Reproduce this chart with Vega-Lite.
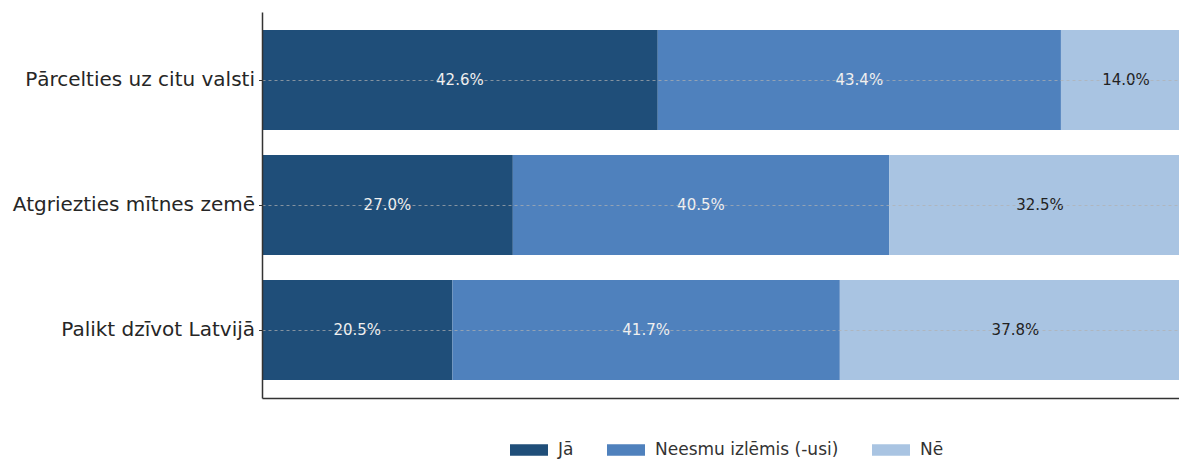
{
  "$schema": "https://vega.github.io/schema/vega-lite/v6.json",
  "width": 929,
  "height": 386,
  "autosize": {"type": "none"},
  "padding": {"left": 262, "top": 12, "right": 0, "bottom": 61},
  "background": "white",
  "config": {
    "view": {"stroke": null},
    "font": "DejaVu Sans"
  },
  "data": {
    "values": [
      {"cat": "Pārcelties uz citu valsti", "ans": "Jā", "o": 1, "v": 42.6},
      {"cat": "Pārcelties uz citu valsti", "ans": "Neesmu izlēmis (-usi)", "o": 2, "v": 43.4},
      {"cat": "Pārcelties uz citu valsti", "ans": "Nē", "o": 3, "v": 14.0},
      {"cat": "Atgriezties mītnes zemē", "ans": "Jā", "o": 1, "v": 27.0},
      {"cat": "Atgriezties mītnes zemē", "ans": "Neesmu izlēmis (-usi)", "o": 2, "v": 40.5},
      {"cat": "Atgriezties mītnes zemē", "ans": "Nē", "o": 3, "v": 32.5},
      {"cat": "Palikt dzīvot Latvijā", "ans": "Jā", "o": 1, "v": 20.5},
      {"cat": "Palikt dzīvot Latvijā", "ans": "Neesmu izlēmis (-usi)", "o": 2, "v": 41.7},
      {"cat": "Palikt dzīvot Latvijā", "ans": "Nē", "o": 3, "v": 37.8}
    ]
  },
  "transform": [
    {"stack": "v", "groupby": ["cat"], "sort": [{"field": "o"}], "as": ["x0", "x1"]},
    {"calculate": "(datum.x0 + datum.x1) / 2", "as": "xm"},
    {"calculate": "format(datum.v, '.1f') + '%'", "as": "lbl"}
  ],
  "encoding": {
    "y": {
      "field": "cat",
      "type": "nominal",
      "sort": ["Pārcelties uz citu valsti", "Atgriezties mītnes zemē", "Palikt dzīvot Latvijā"],
      "scale": {"paddingInner": 0.2, "paddingOuter": 0.144},
      "axis": {
        "title": null,
        "labelFont": "DejaVu Sans",
        "labelFontSize": 20,
        "labelLimit": 0,
        "labelColor": "#262626",
        "labelPadding": 4,
        "tickSize": 3.5,
        "tickColor": "#333333",
        "domainColor": "#333333",
        "domainWidth": 1.5,
        "grid": true,
        "gridDash": [3, 3],
        "gridColor": "#b0b0b0",
        "gridOpacity": 0.7,
        "zindex": 1
      }
    }
  },
  "layer": [
    {
      "mark": {"type": "bar"},
      "encoding": {
        "x": {
          "field": "x0",
          "type": "quantitative",
          "scale": {"domain": [0, 100], "nice": false},
          "axis": {"title": null, "labels": false, "ticks": false, "grid": false, "domainColor": "#333333", "domainWidth": 1.5}
        },
        "x2": {"field": "x1"},
        "color": {
          "field": "ans",
          "type": "nominal",
          "scale": {
            "domain": ["Jā", "Neesmu izlēmis (-usi)", "Nē"],
            "range": ["#1f4e79", "#4f81bd", "#a9c4e2"]
          },
          "legend": {
            "title": null,
            "orient": "none",
            "legendX": 248,
            "legendY": 419,
            "padding": 0,
            "direction": "horizontal",
            "symbolType": "M-1,-0.3H1V0.3H-1Z",
            "symbolSize": 1444,
            "symbolStrokeWidth": 0,
            "labelFont": "DejaVu Sans",
            "labelFontSize": 17,
            "labelLimit": 0,
            "labelColor": "#333333",
            "labelOffset": 10,
            "columnPadding": 33
          }
        }
      }
    },
    {
      "mark": {"type": "text", "font": "DejaVu Sans", "fontSize": 15, "align": "center", "baseline": "middle"},
      "encoding": {
        "x": {"field": "xm", "type": "quantitative"},
        "text": {"field": "lbl"},
        "color": {
          "condition": {"test": "datum.ans === 'Nē'", "value": "#222222"},
          "value": "#f0f0f0"
        }
      }
    }
  ]
}
